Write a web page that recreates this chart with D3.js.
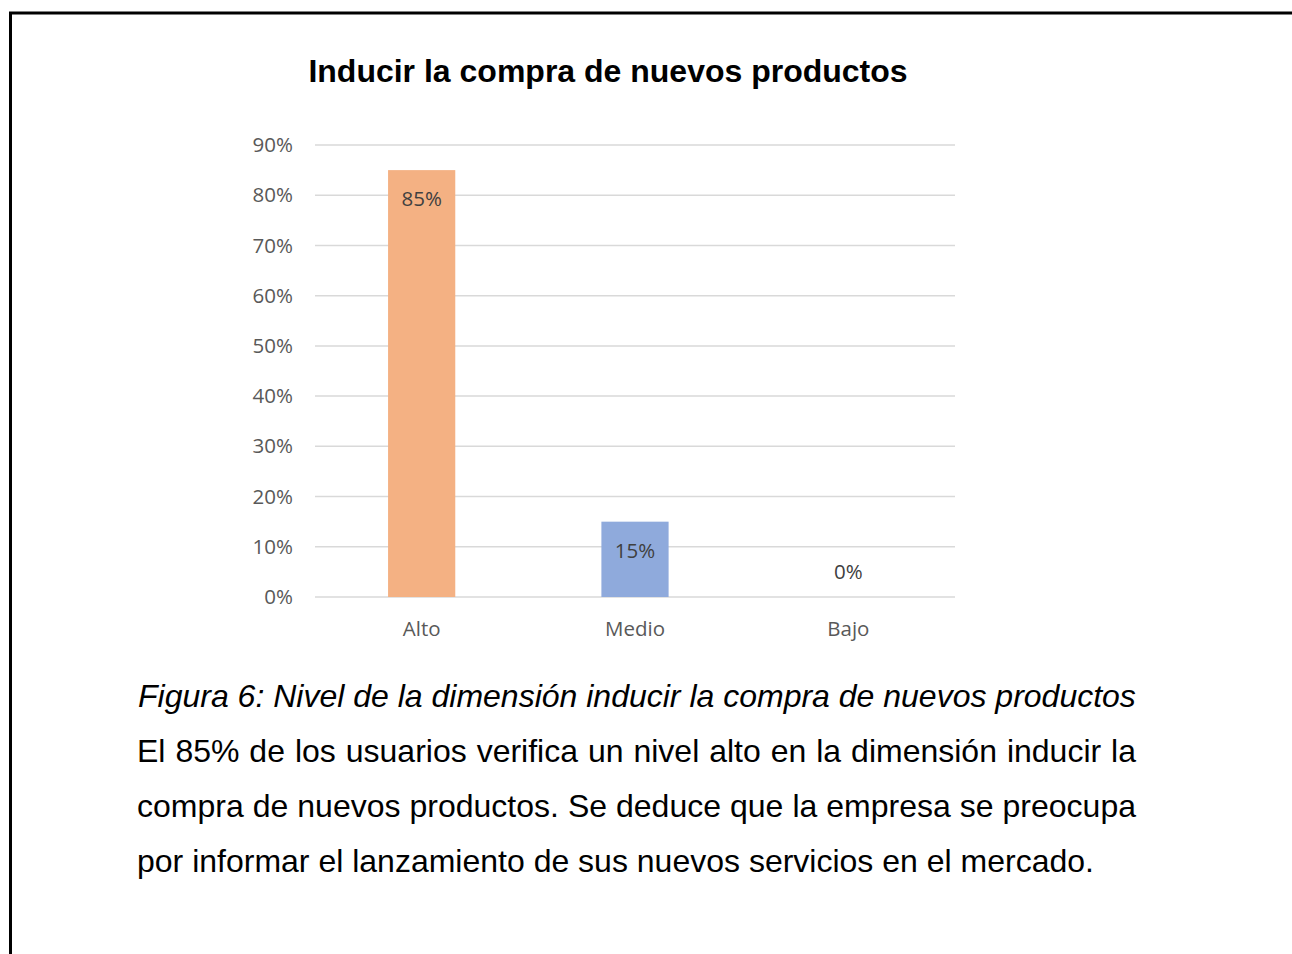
<!DOCTYPE html>
<html><head><meta charset="utf-8">
<script src="https://cdn.jsdelivr.net/npm/d3@7"></script>
<style>html,body{margin:0;padding:0;background:#fff;}svg{display:block;}</style>
</head><body>
<svg id="c" width="1292" height="954"></svg>
<script>
const categories = ["Alto", "Medio", "Bajo"];
const values = [0.85, 0.15, 0.0];
const barColors = ["#F4B183", "#8FAADC", "#A9D18E"];
const tickValues = [0, 0.1, 0.2, 0.3, 0.4, 0.5, 0.6, 0.7, 0.8, 0.9];
const title = "Inducir la compra de nuevos productos";
const caption = "Figura 6: Nivel de la dimensión inducir la compra de nuevos productos";
const bodyLines = [
  "El 85% de los usuarios verifica un nivel alto en la dimensión inducir la",
  "compra de nuevos productos. Se deduce que la empresa se preocupa",
  "por informar el lanzamiento de sus nuevos servicios en el mercado."
];

const svg = d3.select("#c");
const axisFont = "'Open Sans', sans-serif";
const textFont = "'Liberation Sans', Arial, sans-serif";
const axisSize = 20.5;
const textSize = 32;

// border
svg.append("path").attr("d","M10.5,954 L10.5,13 L1292,13")
  .attr("fill","none").attr("stroke","#000").attr("stroke-width",3);

svg.append("text").attr("x",608).attr("y",82).attr("text-anchor","middle")
  .attr("font-family",textFont).attr("font-weight","bold").attr("font-size",textSize)
  .attr("fill","#000").text(title);

const x = d3.scaleBand().domain(categories).range([315,955]).padding(0);
const y = d3.scaleLinear().domain([0,0.9]).range([597,145]);
const barW = x.bandwidth()*0.315;

// gridlines
svg.append("g").selectAll("line").data(tickValues).join("line")
  .attr("x1",315).attr("x2",955).attr("y1",d=>y(d)).attr("y2",d=>y(d))
  .attr("stroke","#d9d9d9").attr("stroke-width",1.5);

// y axis labels
const yAxis = d3.axisLeft(y).tickValues(tickValues).tickFormat(d3.format(".0%")).tickSize(0).tickPadding(22);
const ga = svg.append("g").attr("transform","translate(315,0)").call(yAxis);
ga.select(".domain").remove();
ga.selectAll("text").attr("font-family",axisFont).attr("font-size",axisSize).attr("fill","#595959");

// x axis labels
const xAxis = d3.axisBottom(x).tickSize(0).tickPadding(24);
const gx = svg.append("g").attr("transform","translate(0,597)").call(xAxis);
gx.select(".domain").remove();
gx.selectAll("text").attr("font-family",axisFont).attr("font-size",axisSize).attr("fill","#595959");

// bars
svg.append("g").selectAll("rect").data(values).join("rect")
  .attr("x",(d,i)=>x(categories[i])+x.bandwidth()/2-barW/2)
  .attr("width",barW)
  .attr("y",d=>y(d)).attr("height",d=>y(0)-y(d))
  .attr("fill",(d,i)=>barColors[i]);

// labels
svg.append("g").selectAll("text").data(values).join("text")
  .attr("x",(d,i)=>x(categories[i])+x.bandwidth()/2)
  .attr("y",d=> d>0 ? y(d)+29 : y(0)-25)
  .attr("dy","0.35em").attr("text-anchor","middle")
  .attr("font-family",axisFont).attr("font-size",axisSize).attr("fill","#404040")
  .text(d=>d3.format(".0%")(d));

// caption
svg.append("text").attr("x",138).attr("y",707)
  .attr("font-family",textFont).attr("font-style","italic").attr("font-size",textSize)
  .attr("fill","#000").text(caption);

// body justified
const left = 137, right = 1136;
bodyLines.forEach((line,li)=>{
  const yy = 762 + li*55;
  const words = line.split(" ");
  if (li === bodyLines.length-1) {
    svg.append("text").attr("x",left).attr("y",yy).attr("font-family",textFont)
      .attr("font-size",textSize).attr("fill","#000").text(line);
    return;
  }
  const tmp = svg.append("text").attr("font-family",textFont).attr("font-size",textSize);
  const widths = words.map(w=>{tmp.text(w); return tmp.node().getComputedTextLength();});
  tmp.remove();
  const total = d3.sum(widths);
  const gap = (right-left-total)/(words.length-1);
  let cx = left;
  words.forEach((w,i)=>{
    svg.append("text").attr("x",cx).attr("y",yy).attr("font-family",textFont)
      .attr("font-size",textSize).attr("fill","#000").text(w);
    cx += widths[i]+gap;
  });
});
</script>
</body></html>
